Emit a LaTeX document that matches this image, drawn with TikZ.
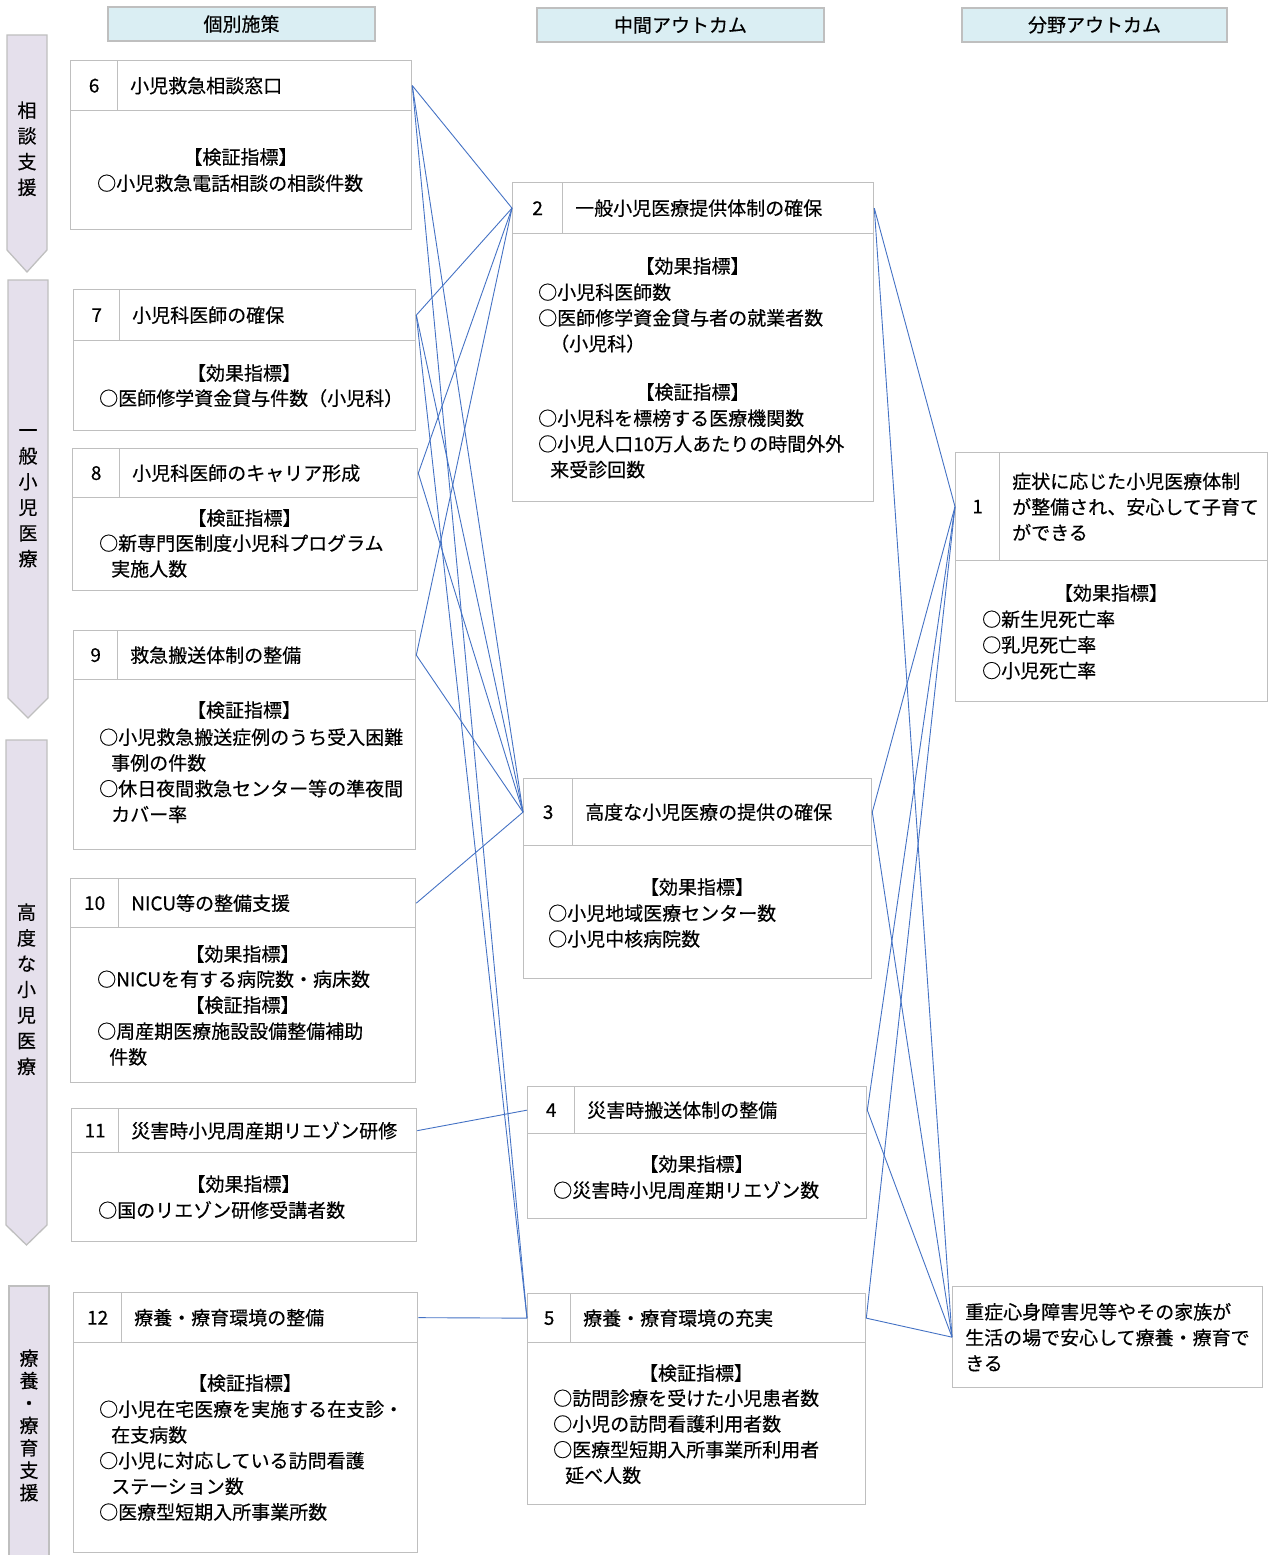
\documentclass[tikz,border=0pt]{standalone}
\usepackage{fontspec}
\setmainfont{Noto Sans CJK JP}[FakeBold=0.35]
\definecolor{boxgray}{RGB}{191,191,191}
\definecolor{linkblue}{RGB}{68,114,196}
\definecolor{catfill}{RGB}{229,224,236}
\definecolor{headfill}{RGB}{218,238,243}
\tikzset{
  every node/.style={font=\fontsize{19}{25.7}\selectfont},
  cellbox/.style={draw=boxgray, line width=1.3pt, anchor=north west, inner sep=0pt},
  ttl/.style={anchor=west, inner sep=0pt, align=left},
  itm/.style={anchor=north west, inner sep=0pt, align=left},
  ctl/.style={anchor=base, inner sep=0pt},
  link/.style={draw=linkblue, line width=0.9pt},
  catbar/.style={draw=boxgray, fill=catfill, line width=1.3pt},
  headlab/.style={draw=boxgray, fill=headfill, line width=1.3pt, inner sep=0pt},
  vstack/.style={anchor=north, inner sep=0pt, align=center},
}
\newcommand{\mkbox}[9]{%
  \node[cellbox, minimum width={#4-#2}, minimum height={#5-#3}] (n#1) at (#2,#3) {#8};
  \node[cellbox, minimum width={#6-#4}, minimum height={#5-#3}] (h#1) at (#4,#3) {};
  \node[ttl] (t#1) at ([xshift=13pt]h#1.west) {#9};
  \node[cellbox, minimum width={#6-#2}, minimum height={#7-#5}] (b#1) at (#2,#5) {};
}
\newcommand{\ctitle}[4]{\node[ctl] (#1) at (#2,#3+7.2) {#4};}
\newcommand{\itms}[4]{\node[itm] (#1) at (#2,#3-10.8) {\rule{0pt}{18pt}#4};}
\newcommand{\cind}{\hspace*{12pt}}
\begin{document}
\begin{tikzpicture}[x=1pt,y=-1pt]
\useasboundingbox (0,0) rectangle (1268,1555);

% column headers
\node[headlab, minimum width=267, minimum height=34] (L1) at (241.5,24) {個別施策};
\node[headlab, minimum width=287, minimum height=34] (L2) at (680.5,25) {中間アウトカム};
\node[headlab, minimum width=265, minimum height=34] (L3) at (1094.5,25) {分野アウトカム};

% category bars
\draw[catbar] (7,35) -- (47,35) -- (47,250) -- (27,272) -- (7,250) -- cycle;
\draw[catbar] (8,280) -- (48,280) -- (48,698) -- (28,718) -- (8,698) -- cycle;
\draw[catbar] (6,740) -- (47,740) -- (47,1225) -- (26.5,1245) -- (6,1225) -- cycle;
\path[catbar] (9,1562) -- (9,1286) -- (49,1286) -- (49,1562);
\node[vstack] (c1) at (27,110-10.8) {\rule{0pt}{18pt}相\\談\\支\\援};
\node[vstack] (c2) at (28,430-10.8) {\rule{0pt}{18pt}一\\般\\小\\児\\医\\療};
\node[vstack] (c3) at (26.5,912-10.8) {\rule{0pt}{18pt}高\\度\\な\\小\\児\\医\\療};
\node[vstack, font=\fontsize{19}{22.4}\selectfont] (c4) at (29,1358-10.8) {\rule{0pt}{18pt}療\\養\\・\\療\\育\\支\\援};

% left column
\mkbox{6}{70}{60}{117}{110}{411}{229}{6}{小児救急相談窓口}
\ctitle{k6}{240.5}{157}{【検証指標】}
\itms{i6}{97}{183}{○小児救急電話相談の相談件数}

\mkbox{7}{73}{289}{119}{340}{415}{430}{7}{小児科医師の確保}
\ctitle{k7}{244}{373}{【効果指標】}
\itms{i7}{99}{398}{○医師修学資金貸与件数（小児科）}

\mkbox{8}{72}{448}{119}{497}{417}{590}{8}{小児科医師のキャリア形成}
\ctitle{k8}{244.5}{518}{【検証指標】}
\itms{i8}{99}{543}{○新専門医制度小児科プログラム\\\cind 実施人数}

\mkbox{9}{73}{630}{117}{679}{415}{849}{9}{救急搬送体制の整備}
\ctitle{k9}{244}{710}{【検証指標】}
\itms{i9}{99}{737}{○小児救急搬送症例のうち受入困難\\\cind 事例の件数\\○休日夜間救急センター等の準夜間\\\cind カバー率}

\mkbox{10}{70}{878}{118}{927}{415}{1082}{10}{NICU等の整備支援}
\ctitle{k10a}{242.5}{954}{【効果指標】}
\itms{i10a}{97}{979}{○NICUを有する病院数・病床数}
\ctitle{k10b}{242.5}{1005}{【検証指標】}
\itms{i10b}{97}{1031}{○周産期医療施設設備整備補助\\\cind 件数}

\mkbox{11}{71}{1108}{118}{1152}{416}{1241}{11}{災害時小児周産期リエゾン研修}
\ctitle{k11}{243.5}{1184}{【効果指標】}
\itms{i11}{98}{1210}{○国のリエゾン研修受講者数}

\mkbox{12}{73}{1292}{121}{1342}{417}{1552}{12}{療養・療育環境の整備}
\ctitle{k12}{245}{1383}{【検証指標】}
\itms{i12}{99}{1409}{○小児在宅医療を実施する在支診・\\\cind 在支病数\\○小児に対応している訪問看護\\\cind ステーション数\\○医療型短期入所事業所数}

% middle column
\mkbox{2}{512}{182}{562}{233}{873}{501}{2}{一般小児医療提供体制の確保}
\ctitle{k2a}{692.5}{266}{【効果指標】}
\itms{i2a}{538}{292}{○小児科医師数\\○医師修学資金貸与者の就業者数\\\cind （小児科）}
\ctitle{k2b}{692.5}{392}{【検証指標】}
\itms{i2b}{538}{418}{○小児科を標榜する医療機関数\\○小児人口10万人あたりの時間外外\\\cind 来受診回数}

\mkbox{3}{523}{778}{572}{845}{871}{978}{3}{高度な小児医療の提供の確保}
\ctitle{k3}{697}{887}{【効果指標】}
\itms{i3}{548}{913}{○小児地域医療センター数\\○小児中核病院数}

\mkbox{4}{527}{1086}{574}{1133}{866}{1218}{4}{災害時搬送体制の整備}
\ctitle{k4}{696.5}{1164}{【効果指標】}
\itms{i4}{553}{1190}{○災害時小児周産期リエゾン数}

\mkbox{5}{527}{1293}{570}{1342}{865}{1504}{5}{療養・療育環境の充実}
\ctitle{k5}{696}{1373}{【検証指標】}
\itms{i5}{553}{1398}{○訪問診療を受けた小児患者数\\○小児の訪問看護利用者数\\○医療型短期入所事業所利用者\\\cind 延べ人数}

% right column
\mkbox{1}{955}{452}{999}{560}{1267}{701}{1}{症状に応じた小児医療体制\\が整備され、安心して子育て\\ができる}
\ctitle{k1}{1111}{593}{【効果指標】}
\itms{i1}{982}{619}{○新生児死亡率\\○乳児死亡率\\○小児死亡率}

\node[cellbox, minimum width=310, minimum height=101] (z) at (952,1286) {};
\node[ttl] (zt) at ([xshift=13pt]z.west) {重症心身障害児等やその家族が\\生活の場で安心して療養・療育で\\きる};

% connectors
\foreach \a/\b in {6/2,6/3,6/5,7/2,7/3,7/5,8/2,8/3,9/2,9/3,10/3,11/4,12/5}
  \draw[link] (h\a.east) -- (n\b.west);
\foreach \a in {2,3,4,5} {
  \draw[link] (h\a.east) -- (n1.west);
  \draw[link] (h\a.east) -- (z.west);
}
\end{tikzpicture}
\end{document}
